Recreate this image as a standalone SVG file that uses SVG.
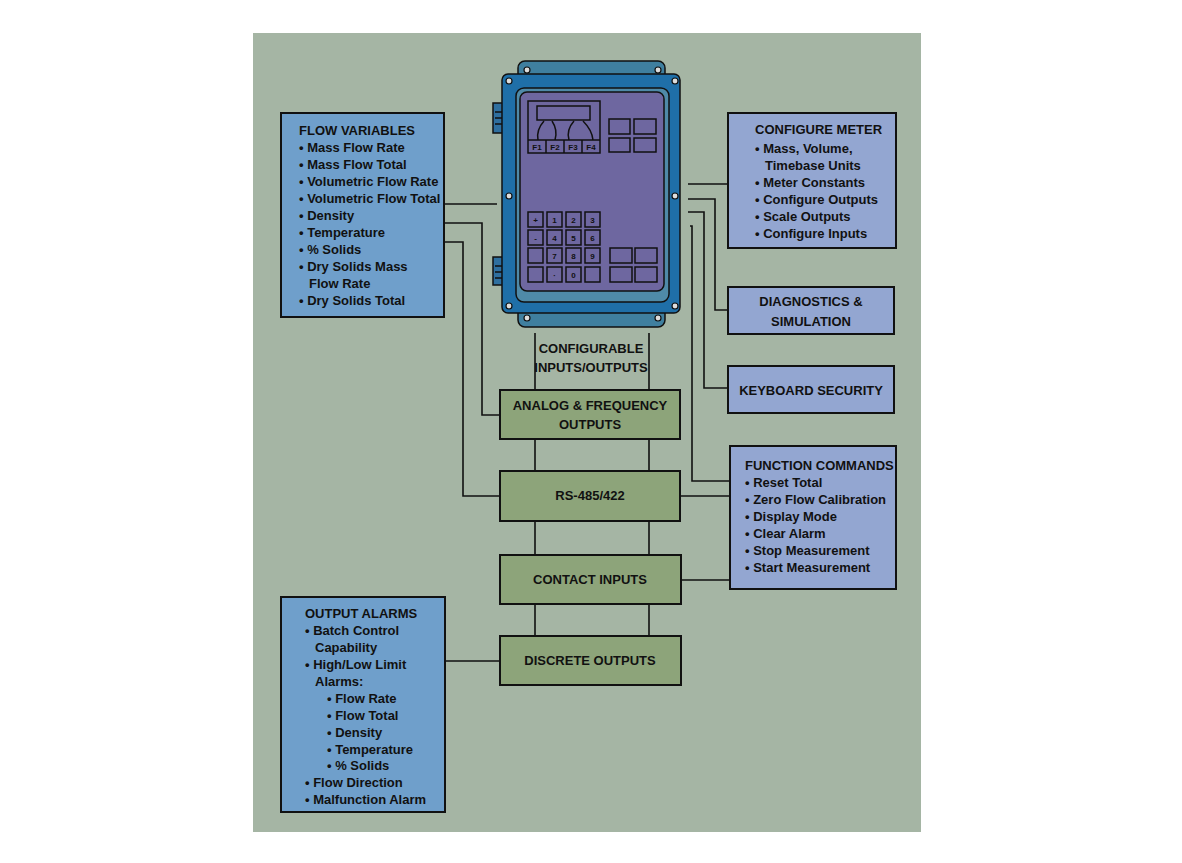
<svg xmlns="http://www.w3.org/2000/svg" width="1182" height="863" viewBox="0 0 1182 863">
<style>
.bg{fill:#a5b5a4}
.bx{stroke:#111;stroke-width:2}
.lb{fill:#6f9fcb}.rb{fill:#93a6d1}.gb{fill:#8da47a}
text{font-family:"Liberation Sans",Arial,sans-serif;font-weight:bold;font-size:13px;fill:#111}
.c{text-anchor:middle}
.ln{fill:none;stroke:#111;stroke-width:1.6}
.k{fill:none;stroke:#111;stroke-width:1.5}
.kt{font-size:8px;text-anchor:middle}
.dot{fill:#ddd;stroke:#111;stroke-width:1.2}
</style>
<rect width="1182" height="863" fill="#fff"/>
<rect class="bg" x="253" y="33" width="668" height="799"/>
<g id="connectors">
<path class="ln" d="M444 204H497M444 223H482V415H500M444 242H463V496H500M688 184H728M688 199H715V310H728M688 212H704V388H728M690 226H692V481H730M535 333V390M649 333V390M535 439V471M649 439V471M535 521V555M649 521V555M535 604V636M649 604V636M680 496H730M681 580H730M445 661H500"/>
</g>
<g id="device">
<rect x="518" y="61" width="147" height="22" rx="7" fill="#3f7f9f" stroke="#111" stroke-width="1.5"/>
<rect x="518" y="303" width="147" height="24" rx="7" fill="#3f7f9f" stroke="#111" stroke-width="1.5"/>
<rect x="493" y="103" width="22" height="30" fill="#2f6f9f" stroke="#111" stroke-width="1.5"/>
<rect x="493" y="257" width="22" height="28" fill="#2f6f9f" stroke="#111" stroke-width="1.5"/>
<path class="k" d="M495 112H515M495 118H515M495 124H515M495 266H515M495 272H515M495 278H515"/>
<rect x="502" y="74" width="178" height="239" rx="6" fill="#1f6fa8" stroke="#111" stroke-width="1.5"/>
<rect x="516" y="88" width="153" height="214" rx="8" fill="#4f8aa8" stroke="#111" stroke-width="1.5"/>
<rect x="520" y="92" width="144" height="199" rx="7" fill="#6e67a0" stroke="#111" stroke-width="1.5"/>
<circle class="dot" cx="509" cy="81" r="3"/><circle class="dot" cx="675" cy="81" r="3"/>
<circle class="dot" cx="509" cy="306" r="3"/><circle class="dot" cx="675" cy="306" r="3"/>
<circle class="dot" cx="509" cy="196" r="3"/><circle class="dot" cx="675" cy="196" r="3"/>
<circle class="dot" cx="527" cy="70" r="3"/><circle class="dot" cx="658" cy="70" r="3"/>
<circle class="dot" cx="527" cy="318" r="3"/><circle class="dot" cx="658" cy="318" r="3"/>
<rect class="k" x="528" y="101" width="72" height="52"/>
<rect class="k" x="537" y="106" width="53" height="14"/>
<path class="k" d="M528 140H600M546 140V153M564 140V153M582 140V153M544 121Q536 130 538 140M552 121Q558 130 555 140M574 121Q566 130 569 140M583 121Q592 130 593 140"/>
<text class="kt" x="537" y="150">F1</text><text class="kt" x="555" y="150">F2</text><text class="kt" x="573" y="150">F3</text><text class="kt" x="591" y="150">F4</text>
<rect class="k" x="609" y="119" width="21" height="15"/><rect class="k" x="634" y="119" width="22" height="15"/>
<rect class="k" x="609" y="138" width="21" height="14"/><rect class="k" x="634" y="138" width="22" height="14"/>
<rect class="k" x="528" y="212" width="15" height="15"/><rect class="k" x="547" y="212" width="15" height="15"/><rect class="k" x="566" y="212" width="15" height="15"/><rect class="k" x="585" y="212" width="15" height="15"/>
<rect class="k" x="528" y="230" width="15" height="15"/><rect class="k" x="547" y="230" width="15" height="15"/><rect class="k" x="566" y="230" width="15" height="15"/><rect class="k" x="585" y="230" width="15" height="15"/>
<rect class="k" x="528" y="248" width="15" height="15"/><rect class="k" x="547" y="248" width="15" height="15"/><rect class="k" x="566" y="248" width="15" height="15"/><rect class="k" x="585" y="248" width="15" height="15"/>
<rect class="k" x="528" y="267" width="15" height="15"/><rect class="k" x="547" y="267" width="15" height="15"/><rect class="k" x="566" y="267" width="15" height="15"/><rect class="k" x="585" y="267" width="15" height="15"/>
<text class="kt" x="535.5" y="223">+</text><text class="kt" x="554.5" y="223">1</text><text class="kt" x="573.5" y="223">2</text><text class="kt" x="592.5" y="223">3</text>
<text class="kt" x="535.5" y="241">-</text><text class="kt" x="554.5" y="241">4</text><text class="kt" x="573.5" y="241">5</text><text class="kt" x="592.5" y="241">6</text>
<text class="kt" x="554.5" y="259">7</text><text class="kt" x="573.5" y="259">8</text><text class="kt" x="592.5" y="259">9</text>
<text class="kt" x="554.5" y="278">·</text><text class="kt" x="573.5" y="278">0</text>
<rect class="k" x="610" y="248" width="22" height="15"/><rect class="k" x="635" y="248" width="22" height="15"/>
<rect class="k" x="610" y="267" width="22" height="15"/><rect class="k" x="635" y="267" width="22" height="15"/>
</g>
<g id="configurable"><text class="c" x="591" y="353">CONFIGURABLE</text><text class="c" x="591" y="372">INPUTS/OUTPUTS</text></g>
<g id="flow-variables">
<rect class="bx lb" x="281" y="113" width="163" height="204"/>
<text x="299" y="135">FLOW VARIABLES</text>
<text x="299" y="152">• Mass Flow Rate</text>
<text x="299" y="169">• Mass Flow Total</text>
<text x="299" y="186">• Volumetric Flow Rate</text>
<text x="299" y="203">• Volumetric Flow Total</text>
<text x="299" y="220">• Density</text>
<text x="299" y="237">• Temperature</text>
<text x="299" y="254">• % Solids</text>
<text x="299" y="271">• Dry Solids Mass</text>
<text x="309" y="288">Flow Rate</text>
<text x="299" y="305">• Dry Solids Total</text>
</g>
<g id="configure-meter">
<rect class="bx rb" x="728" y="113" width="168" height="135"/>
<text x="755" y="134">CONFIGURE METER</text>
<text x="755" y="153">• Mass, Volume,</text>
<text x="765" y="170">Timebase Units</text>
<text x="755" y="187">• Meter Constants</text>
<text x="755" y="204">• Configure Outputs</text>
<text x="755" y="221">• Scale Outputs</text>
<text x="755" y="238">• Configure Inputs</text>
</g>
<g id="diagnostics">
<rect class="bx rb" x="728" y="287" width="166" height="47"/>
<text class="c" x="811" y="306">DIAGNOSTICS &amp;</text>
<text class="c" x="811" y="326">SIMULATION</text>
</g>
<g id="keyboard">
<rect class="bx rb" x="728" y="366" width="166" height="47"/>
<text class="c" x="811" y="395">KEYBOARD SECURITY</text>
</g>
<g id="function-commands">
<rect class="bx rb" x="730" y="446" width="166" height="143"/>
<text x="745" y="470">FUNCTION COMMANDS</text>
<text x="745" y="487">• Reset Total</text>
<text x="745" y="504">• Zero Flow Calibration</text>
<text x="745" y="521">• Display Mode</text>
<text x="745" y="538">• Clear Alarm</text>
<text x="745" y="555">• Stop Measurement</text>
<text x="745" y="572">• Start Measurement</text>
</g>
<g id="analog">
<rect class="bx gb" x="500" y="390" width="180" height="49"/>
<text class="c" x="590" y="410">ANALOG &amp; FREQUENCY</text>
<text class="c" x="590" y="429">OUTPUTS</text>
</g>
<g id="rs485">
<rect class="bx gb" x="500" y="471" width="180" height="50"/>
<text class="c" x="590" y="500">RS-485/422</text>
</g>
<g id="contact">
<rect class="bx gb" x="500" y="555" width="181" height="49"/>
<text class="c" x="590" y="584">CONTACT INPUTS</text>
</g>
<g id="discrete">
<rect class="bx gb" x="500" y="636" width="181" height="49"/>
<text class="c" x="590" y="665">DISCRETE OUTPUTS</text>
</g>
<g id="output-alarms">
<rect class="bx lb" x="281" y="597" width="164" height="215"/>
<text x="305" y="618">OUTPUT ALARMS</text>
<text x="305" y="635">• Batch Control</text>
<text x="315" y="652">Capability</text>
<text x="305" y="669">• High/Low Limit</text>
<text x="315" y="686">Alarms:</text>
<text x="327" y="703">• Flow Rate</text>
<text x="327" y="720">• Flow Total</text>
<text x="327" y="737">• Density</text>
<text x="327" y="754">• Temperature</text>
<text x="327" y="770">• % Solids</text>
<text x="305" y="787">• Flow Direction</text>
<text x="305" y="804">• Malfunction Alarm</text>
</g>
</svg>
